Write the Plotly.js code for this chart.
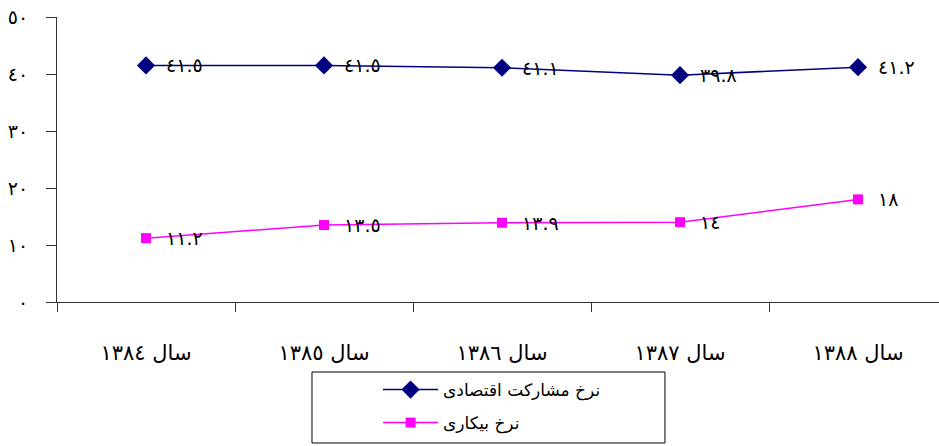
<!DOCTYPE html>
<html>
<head>
<meta charset="utf-8">
<script src="https://cdn.plot.ly/plotly-3.0.1.min.js"></script>
<style>html,body{margin:0;padding:0;background:#fff;}#chart{width:939px;height:446px;}</style>
</head>
<body>
<div id="chart"></div>
<script>
// ---- data ----
const categories = ["سال ١٣٨٤", "سال ١٣٨٥", "سال ١٣٨٦", "سال ١٣٨٧", "سال ١٣٨٨"];
const participationName = "نرخ مشارکت اقتصادی";
const participationValues = [41.5, 41.5, 41.1, 39.8, 41.2];
const unemploymentName = "نرخ بیکاری";
const unemploymentValues = [11.2, 13.5, 13.9, 14, 18];
const yTickVals = [0, 10, 20, 30, 40, 50];
const yTickText = ["٠", "١٠", "٢٠", "٣٠", "٤٠", "٥٠"];

// ---- helpers ----
const arabicDigits = "٠١٢٣٤٥٦٧٨٩";
function toArabic(v) {
  return String(v).replace(/[0-9]/g, d => arabicDigits[+d]);
}

const FONT = "DejaVu Sans, sans-serif";
const navy = "#000080";
const magenta = "#FF00FF";

const traces = [
  {
    type: "scatter", mode: "lines+markers", name: participationName,
    x: categories, y: participationValues,
    line: {color: navy, width: 1.5},
    marker: {symbol: "diamond", size: 14, color: navy},
    legend: "legend", hoverinfo: "skip"
  },
  {
    type: "scatter", mode: "lines+markers", name: unemploymentName,
    x: categories, y: unemploymentValues,
    line: {color: magenta, width: 1.5},
    marker: {symbol: "square", size: 10, color: magenta},
    legend: "legend2", hoverinfo: "skip"
  }
];

const annotations = [];
function addLabels(vals) {
  vals.forEach((v, i) => {
    annotations.push({
      x: categories[i], y: v, xref: "x", yref: "y",
      text: toArabic(v), showarrow: false,
      xanchor: "left", yanchor: "middle", xshift: 18,
      font: {family: FONT, size: 19, color: "#000"}
    });
  });
}
addLabels(participationValues);
addLabels(unemploymentValues);

const layout = {
  width: 939, height: 446,
  margin: {l: 57, r: 0, t: 17, b: 144},
  paper_bgcolor: "#fff", plot_bgcolor: "#fff",
  font: {family: FONT, color: "#000"},
  showlegend: true,
  xaxis: {
    type: "category", range: [-0.5, 4.455],
    showline: true, linecolor: "#333", linewidth: 1,
    ticks: "outside", tickson: "boundaries", ticklen: 9, tickcolor: "#333",
    showgrid: false, zeroline: false,
    tickfont: {family: FONT, size: 21, color: "#000"},
    ticklabelstandoff: 32
  },
  yaxis: {
    range: [0, 50],
    tickvals: yTickVals, ticktext: yTickText,
    showline: true, linecolor: "#333", linewidth: 1,
    ticks: "outside", ticklen: 10, tickcolor: "#333",
    showgrid: false, zeroline: false,
    tickfont: {family: FONT, size: 19, color: "#000"},
    ticklabelstandoff: 14
  },
  legend: {
    x: 0.364, y: -0.3088, xanchor: "left", yanchor: "middle",
    xref: "paper", yref: "paper",
    bgcolor: "rgba(0,0,0,0)", borderwidth: 0, itemwidth: 55,
    font: {family: FONT, size: 17, color: "#000"}
  },
  legend2: {
    x: 0.364, y: -0.4246, xanchor: "left", yanchor: "middle",
    xref: "paper", yref: "paper",
    bgcolor: "rgba(0,0,0,0)", borderwidth: 0, itemwidth: 55,
    font: {family: FONT, size: 17, color: "#000"}
  },
  shapes: [{
    type: "rect", xref: "paper", yref: "paper",
    x0: 0.2891, x1: 0.6893, y0: -0.2456, y1: -0.4947,
    line: {color: "#000", width: 1}, fillcolor: "rgba(0,0,0,0)"
  }],
  annotations: annotations
};

Plotly.newPlot("chart", traces, layout, {displayModeBar: false, staticPlot: true});
</script>
</body>
</html>
